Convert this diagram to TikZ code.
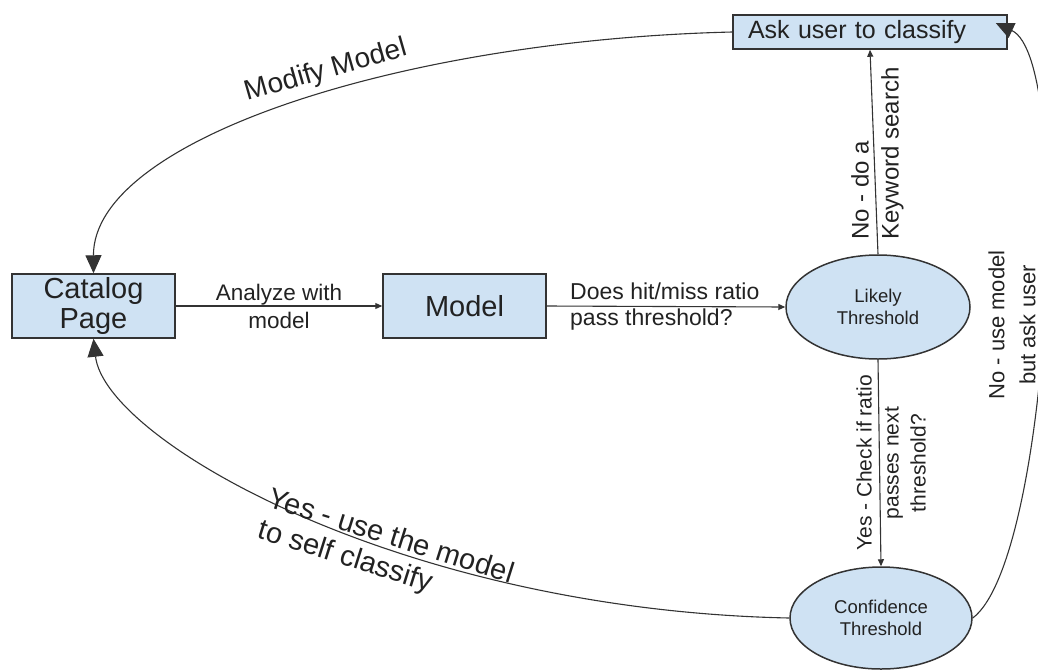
\documentclass[tikz,border=0pt]{standalone}
\usepackage{fontspec}
\setmainfont{Liberation Sans}
\usetikzlibrary{arrows.meta,shapes.geometric}
\definecolor{boxfill}{HTML}{CFE2F3}
\definecolor{boxline}{HTML}{333333}
\definecolor{txt}{HTML}{222222}
\definecolor{conncol}{HTML}{333333}
\newcommand{\fsz}[2]{\fontsize{#1}{#2}\selectfont}
\begin{document}
\begin{tikzpicture}[x=1pt,y=-1pt,
  box/.style={draw=boxline, line width=1.5pt, fill=boxfill, text=txt, inner sep=0pt, align=center},
  oval/.style={ellipse, draw=boxline, line width=1.5pt, fill=boxfill, text=txt, inner sep=0pt, align=center},
  conn/.style={draw=conncol, line width=1.1pt},
  smalltip/.style={-{Triangle[length=7pt,width=6pt]}},
  bigtip/.style={-{Triangle[length=18pt,width=16pt]}},
  lbl/.style={text=txt, inner sep=0pt},
]
\useasboundingbox (0,0) rectangle (1038,670);

% nodes
\node[box, minimum width=163pt, minimum height=64pt, font=\fsz{29}{30}] (cat) at (93.5,306) {Catalog\\Page};
\node[box, minimum width=163pt, minimum height=64pt, font=\fsz{29}{30}] (model) at (464.5,306) {Model};
\node[box, minimum width=274pt, minimum height=34pt, text width=244pt, align=left, font=\fsz{25}{28}] (ask) at (870,32) {Ask user to classify};
\node[oval, minimum width=184pt, minimum height=104pt, font=\fsz{18.5}{22}] (likely) at (878,307) {Likely\\Threshold};
\node[oval, minimum width=182pt, minimum height=102pt, font=\fsz{18.5}{22}] (conf) at (881,618) {Confidence\\Threshold};

% connectors
\draw[conn, smalltip] (cat.east) -- node[midway, lbl, align=center, font=\fsz{22.5}{28}] {Analyze with\\model} (model.west);

\draw[conn, smalltip] (model.east) -- (likely.west);
\node[lbl, anchor=west, align=left, font=\fsz{23}{26}] (lblratio) at (570,307) {Does hit/miss ratio\\pass threshold?};

\draw[conn, smalltip] (likely.north) -- node[pos=0.07, lbl, rotate=90, anchor=west, align=left, font=\fsz{24}{30}] {No - do a\\Keyword search} (ask.south);

\draw[conn, smalltip] (likely.south) -- (conf.north);
\node[lbl, rotate=90, align=center, font=\fsz{21}{27}] (lblcheck) at (891,463) {Yes - Check if ratio\\passes next\\threshold?};

\draw[conn, bigtip] (conf.east) .. controls (1050,560) and (1075,60) .. ([shift={(-12,-9)}]ask.east);
\node[lbl, rotate=90, align=center, font=\fsz{22}{31}] (lblnouse) at (1012,325) {No - use model\\but ask user};

\draw[conn, bigtip] (ask.west) .. controls (400,40) and (93,140) .. (cat.north);
\node[lbl, rotate=16, anchor=base, font=\fsz{28}{32}] (lblmodify) at (328,78) {Modify Model};

\draw[conn, bigtip] (conf.west) .. controls (400,610) and (105,440) .. (cat.south);
\node[lbl, rotate=-17.5, anchor=north west, align=left, font=\fsz{29}{33}] (lblyes) at (273,486) {Yes - use the model\\to self classify};
\end{tikzpicture}
\end{document}
